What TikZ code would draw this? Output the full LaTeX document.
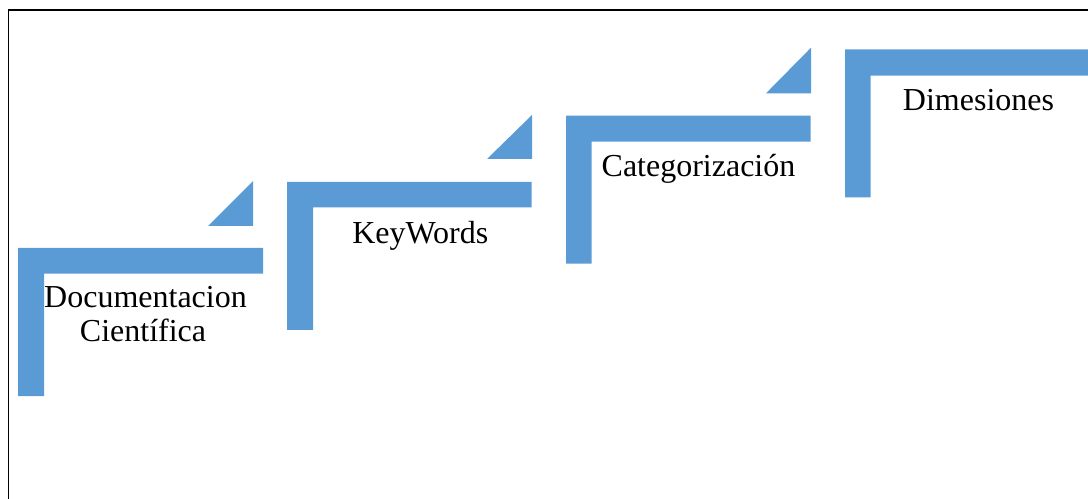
\documentclass[tikz,border=0pt]{standalone}
\usepackage{fontspec}
\setmainfont{Liberation Serif}
\definecolor{stepblue}{HTML}{5B9BD5}
\begin{document}
\begin{tikzpicture}[x=1bp,y=-1bp,
  stepfill/.style={fill=stepblue,draw=none},
  steplabel/.style={anchor=base,inner sep=0pt,font=\fontsize{32bp}{34bp}\selectfont}]
\useasboundingbox (0,0) rectangle (1088,499);
\begin{scope}
\clip (0,0) rectangle (1088,499);
\draw[line width=1.6bp] (8.5,10) rectangle (1100,520);
% step 1
\fill[stepfill] (18,248) -- (263,248) -- (263,273.7) -- (44,273.7) -- (44,396) -- (18,396) -- cycle;
\fill[stepfill] (208,226) -- (253,226) -- (253,181) -- cycle;
% step 2
\fill[stepfill] (287,182) -- (531.7,182) -- (531.7,207.5) -- (313,207.5) -- (313,330) -- (287,330) -- cycle;
\fill[stepfill] (487,159) -- (532,159) -- (532,115) -- cycle;
% step 3
\fill[stepfill] (566,115.7) -- (810.7,115.7) -- (810.7,141.7) -- (591.7,141.7) -- (591.7,263.7) -- (566,263.7) -- cycle;
\fill[stepfill] (766,93.3) -- (811,93.3) -- (811,47.7) -- cycle;
% step 4
\fill[stepfill] (845,49.3) -- (1095,49.3) -- (1095,75.7) -- (870.7,75.7) -- (870.7,197.3) -- (845,197.3) -- cycle;
\end{scope}
\node[steplabel] (doc1) at (145.5,308) {Documentacion};
\node[steplabel] (doc2) at (143,341.7) {Científica};
\node[steplabel] (kw) at (420.3,243.3) {KeyWords};
\node[steplabel] (cat) at (698.5,176.5) {Categorización};
\node[steplabel] (dim) at (978.5,111) {Dimesiones};
\end{tikzpicture}
\end{document}
